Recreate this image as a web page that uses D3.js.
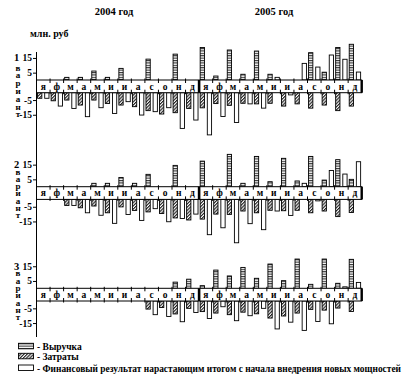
<!DOCTYPE html>
<html>
<head>
<meta charset="utf-8">
<script src="https://cdn.jsdelivr.net/npm/d3@7"></script>
<style>
  body { margin: 0; background: #fff; }
  svg text { font-family: "Liberation Serif", "Times New Roman", serif !important; font-weight: bold; fill: #000; }
</style>
</head>
<body>
<div id="chart"></div>
<script>
// Data (млн. руб), 24 months: 2004 then 2005
var months = ["я", "ф", "м", "а", "м", "и", "и", "а", "с", "о", "н", "д"];
var years = ["2004 год", "2005 год"];
var tickValues = [15, 5, -5, -15];
var word = "вариант";
var seriesNames = ["Выручка", "Затраты",
  "Финансовый результат нарастающим итогом с начала внедрения новых мощностей"];

// вариант 1
var revenue1 = [0, 0, 1.8, 1.8, 6.1, 1.8, 7.9, 0, 14.2, 0, 17.6, 0,
                22.1, 2.7, 20.4, 3.9, 19.7, 3.9, 0, 0, 18.6, 5.3, 22.1, 24.3];
var costs1 = [-3.8, -5.5, -5.0, -8.4, -5.0, -7.3, -8.4, -9.5, -12.2, -14.5, -13.6, -10.7,
              -10.3, -7.4, -8.6, -7.2, -7.6, -7.2, -9.1, -7.6, -10.5, -8.4, -12.2, -9.1];
var result1 = [-3.8, -9.1, -10.7, -16.3, -10.2, -14.1, -6.1, -15.2, -12.9, -10.2, -24.3, -18.6,
               -28.7, -16.2, -20.3, -7.6, -10.5, 1.8, -1.5, 11.3, 8.8, 17, 14.1, 5.4];

// вариант 2
var revenue2 = [0, 0, 0, 0, 2.3, 2.3, 6.3, 2.3, 8.4, 0, 14.5, 0,
                17.4, 0, 22, 2.3, 20.6, 3.4, 19.3, 3.9, 20.6, 4.5, 18.4, 5];
var costs2 = [0, 0, -4.1, -5.7, -4.5, -9.1, -5.1, -7.5, -8.5, -9.6, -12.6, -14,
              -13.4, -10, -10.2, -7.9, -9.1, -7.4, -7.7, -7.4, -9.1, -7.9, -11.7, -8.9];
var result2 = [0, 0, -4.1, -9.1, -10.8, -16.3, -10.3, -14.3, -6.3, -15.2, -13, -10,
               -24, -19.3, -29.5, -16.5, -20.6, -7.9, -10.9, 2.3, -1, 11, 8.6, 17];

// вариант 3
var revenue3 = [0, 0, 0, 0, 0, 0, 0, 0, 0, 0, 4.2, 6.2,
                1.8, 12.4, 8.4, 14.2, 6.8, 16.5, 5.2, 19.9, 2.7, 19.9, 3.4, 19.7];
var costs3 = [0, 0, 0, 0, 0, 0, 0, 0, -5.5, -4.4, -8.8, -5,
              -7.2, -8.2, -9.3, -7.6, -8.7, -11.6, -10.2, -8.2, -5.7, -6.2, -4.8, -7.1];
var result3 = [0, 0, 0, 0, 0, 0, 0, 0, -9.3, -10.5, -14.1, -7.8,
               -11.9, -3.9, -13.4, -10, -5, -19, -14.4, -20, -13.9, -15.5, 1, 4];

var svgWidth = 408;
var svgHeight = 379;
var pxPerUnit = 1.47;
var bandHeight = 12.7;

// panel layout (positions only)
var panels = [
  { name: "1", rev: revenue1, cost: costs1, res: result1, bandTop: 80, axisTop: 52, axisBottom: 147, letterOffset: 9.7, letterStep: 7.8 },
  { name: "2", rev: revenue2, cost: costs2, res: result2, bandTop: 186.7, axisTop: 147, axisBottom: 252, letterOffset: 7.2, letterStep: 7.2 },
  { name: "3", rev: revenue3, cost: costs3, res: result3, bandTop: 288.3, axisTop: 252, axisBottom: 337, letterOffset: 7.2, letterStep: 7.3 }
];

var svg = d3.select("#chart")
  .append("svg")
  .attr("width", svgWidth)
  .attr("height", svgHeight);

// fill patterns
var defs = svg.append("defs");
var stripes = defs.append("pattern")
  .attr("id", "stripes")
  .attr("patternUnits", "userSpaceOnUse")
  .attr("width", 4).attr("height", 2.4);
stripes.append("rect").attr("width", 4).attr("height", 2.4).attr("fill", "#fff");
stripes.append("line")
  .attr("x1", 0).attr("x2", 4).attr("y1", 0.6).attr("y2", 0.6)
  .attr("stroke", "#000").attr("stroke-width", 0.9);

var hatch = defs.append("pattern")
  .attr("id", "hatch")
  .attr("patternUnits", "userSpaceOnUse")
  .attr("width", 2.3).attr("height", 2.3)
  .attr("patternTransform", "rotate(45)");
hatch.append("rect").attr("width", 2.3).attr("height", 2.3).attr("fill", "#fff");
hatch.append("line")
  .attr("x1", 0.6).attr("x2", 0.6).attr("y1", 0).attr("y2", 2.3)
  .attr("stroke", "#000").attr("stroke-width", 1);

// x scales: months and two slots inside each month
var x = d3.scaleBand()
  .domain(d3.range(24))
  .range([36.5, 361.7])
  .padding(0);

var slot = d3.scaleBand()
  .domain(["a", "b"])
  .range([0, x.bandwidth()])
  .paddingInner(0.4)
  .paddingOuter(0.15);

// titles
svg.selectAll(".year")
  .data(years)
  .enter()
  .append("text")
  .attr("class", "year")
  .attr("x", (d, i) => i === 0 ? 114 : 274)
  .attr("y", 15)
  .attr("text-anchor", "middle")
  .attr("font-size", "10.5px")
  .text(d => d);

svg.append("text")
  .attr("x", 30)
  .attr("y", 37)
  .attr("font-size", "10px")
  .text("млн. руб");

panels.forEach(function(p) {
  var bandBottom = p.bandTop + bandHeight;

  var pos = d3.scaleLinear()
    .domain([0, 30])
    .range([p.bandTop, p.bandTop - 30 * pxPerUnit]);
  var neg = d3.scaleLinear()
    .domain([0, -30])
    .range([bandBottom, bandBottom + 30 * pxPerUnit]);

  var g = svg.append("g");

  // bars
  var rows = [];
  p.rev.forEach((v, i) => rows.push({ i: i, v: v, s: "a", fill: "url(#stripes)" }));
  p.cost.forEach((v, i) => rows.push({ i: i, v: v, s: "a", fill: "url(#hatch)" }));
  p.res.forEach((v, i) => rows.push({ i: i, v: v, s: "b", fill: "#fff" }));
  rows = rows.filter(d => d.v !== 0);

  g.selectAll("rect.bar")
    .data(rows)
    .enter()
    .append("rect")
    .attr("class", "bar")
    .attr("x", d => x(d.i) + slot(d.s))
    .attr("width", slot.bandwidth())
    .attr("y", d => d.v > 0 ? pos(d.v) : bandBottom)
    .attr("height", d => d.v > 0 ? pos(0) - pos(d.v) : neg(d.v) - neg(0))
    .attr("fill", d => d.fill)
    .attr("stroke", "#000")
    .attr("stroke-width", 0.9);

  // month band
  g.append("rect")
    .attr("x", x.range()[0])
    .attr("y", p.bandTop)
    .attr("width", x.range()[1] - x.range()[0])
    .attr("height", bandHeight)
    .attr("fill", "#fff")
    .attr("stroke", "#000")
    .attr("stroke-width", 1);

  var bounds = d3.range(1, 24).filter(i => i !== 12);
  g.selectAll("line.tt")
    .data(bounds)
    .enter()
    .append("line")
    .attr("x1", i => x(i)).attr("x2", i => x(i))
    .attr("y1", p.bandTop - 1.5).attr("y2", p.bandTop + 3)
    .attr("stroke", "#000");
  g.selectAll("line.tb")
    .data(bounds)
    .enter()
    .append("line")
    .attr("x1", i => x(i)).attr("x2", i => x(i))
    .attr("y1", bandBottom - 3).attr("y2", bandBottom + 1.5)
    .attr("stroke", "#000");

  // year divider and right end
  g.append("line")
    .attr("x1", x(12)).attr("x2", x(12))
    .attr("y1", p.bandTop).attr("y2", bandBottom)
    .attr("stroke", "#000").attr("stroke-width", 2.6);
  g.append("line")
    .attr("x1", x.range()[1]).attr("x2", x.range()[1])
    .attr("y1", p.bandTop).attr("y2", bandBottom)
    .attr("stroke", "#000").attr("stroke-width", 2.4);

  g.selectAll("text.month")
    .data(d3.range(24))
    .enter()
    .append("text")
    .attr("class", "month")
    .attr("x", i => x(i) + x.bandwidth() / 2)
    .attr("y", p.bandTop + 9.6)
    .attr("text-anchor", "middle")
    .attr("font-size", "9.5px")
    .text(i => months[i % 12]);

  // y axis
  g.append("line")
    .attr("x1", 36.5).attr("x2", 36.5)
    .attr("y1", p.axisTop).attr("y2", p.axisBottom)
    .attr("stroke", "#000");

  var axisPos = d3.axisLeft(pos)
    .tickValues(tickValues.filter(t => t > 0))
    .tickSize(3.5).tickPadding(1)
    .tickFormat(d => String(d));
  var axisNeg = d3.axisLeft(neg)
    .tickValues(tickValues.filter(t => t < 0))
    .tickSize(3.5).tickPadding(1)
    .tickFormat(d => String(d));

  [axisPos, axisNeg].forEach(function(ax) {
    var a = g.append("g")
      .attr("transform", "translate(36.5,0)")
      .call(ax)
      .attr("font-family", null)
      .attr("font-size", null);
    a.select(".domain").remove();
    a.selectAll("line").attr("stroke", "#000");
    a.selectAll("text")
      .attr("font-size", "9.5px")
      .attr("fill", "#000");
  });

  // variant label: number + vertical word (one text, one tspan per letter)
  g.append("text")
    .attr("x", 16.5)
    .attr("y", pos(15) + 3.5)
    .attr("text-anchor", "middle")
    .attr("font-size", "10.5px")
    .text(p.name);

  g.append("text")
    .attr("text-anchor", "middle")
    .attr("font-size", "9px")
    .selectAll("tspan")
    .data(word.split(""))
    .enter()
    .append("tspan")
    .attr("x", 18)
    .attr("y", (d, k) => pos(15) + p.letterOffset + k * p.letterStep + 3)
    .text(d => d);
});

// legend
var legendFills = ["url(#stripes)", "url(#hatch)", "#fff"];
var legendY = [343.3, 353.3, 365];
var legend = svg.append("g");
seriesNames.forEach(function(name, k) {
  legend.append("rect")
    .attr("x", 18.5)
    .attr("y", legendY[k])
    .attr("width", 15)
    .attr("height", 5.5)
    .attr("fill", legendFills[k])
    .attr("stroke", "#000")
    .attr("stroke-width", 0.9);
  var t = legend.append("text")
    .attr("x", 37)
    .attr("y", legendY[k] + 6.5)
    .attr("font-size", "9.5px")
    .text("- " + name);
  if (k === 2) {
    t.attr("textLength", 364).attr("lengthAdjust", "spacingAndGlyphs");
  }
});
</script>
</body>
</html>
